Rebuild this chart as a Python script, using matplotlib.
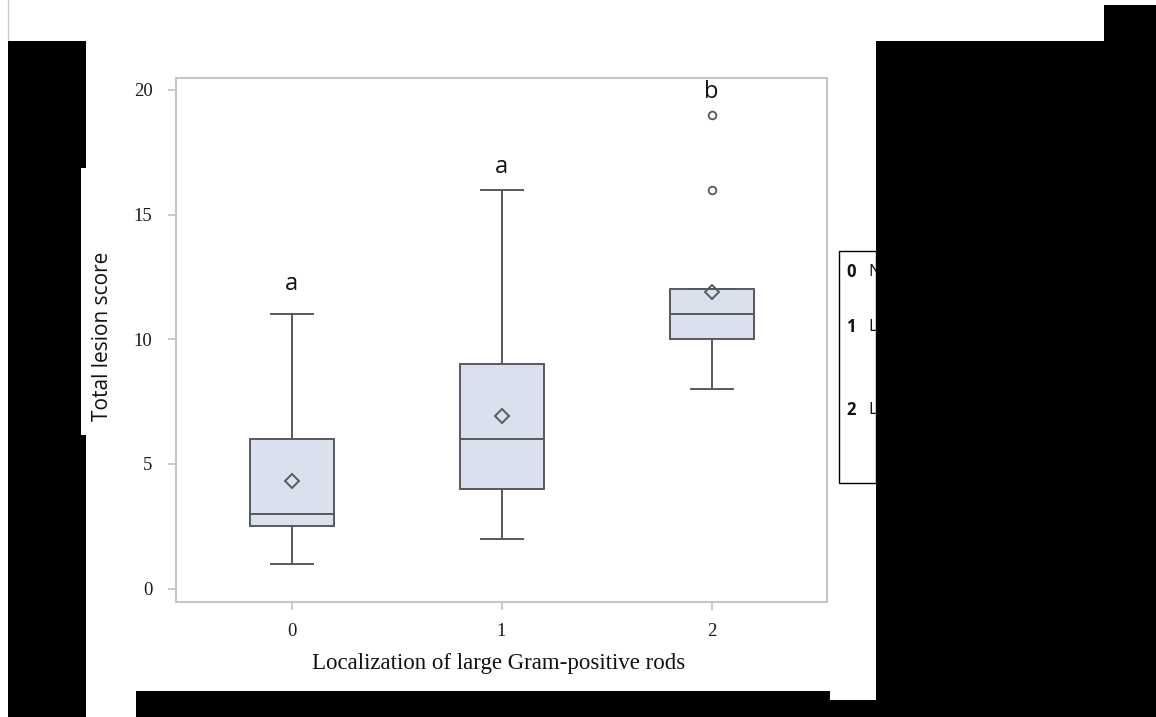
import matplotlib
matplotlib.use("Agg")
import matplotlib.pyplot as plt
from matplotlib.patches import Rectangle

# Box summary statistics per localization group
groups = ["0", "1", "2"]
whisker_low = [1, 2, 8]
q1 = [2.5, 4, 10]
median = [3, 6, 11]
q3 = [6, 9, 12]
whisker_high = [11, 16, 12]
means = [4.32, 6.93, 11.9]
outliers = [[], [], [19, 16]]
letter_groups = ["a", "a", "b"]
letter_y = [12.2, 16.9, 19.9]
y_ticks = [0, 5, 10, 15, 20]
legend_lines = [("0", "N"), ("1", "L"), ("2", "L")]

W, H = 1156, 717
fig = plt.figure(figsize=(W / 100, H / 100), dpi=100)


def fx(px):
    return px / W


def fy(py):
    return 1 - py / H


ax = fig.add_axes([fx(176), fy(602), fx(827) - fx(176), fy(78) - fy(602)])

stats = []
for i, g in enumerate(groups):
    stats.append(dict(label=g, whislo=whisker_low[i], q1=q1[i], med=median[i],
                      q3=q3[i], whishi=whisker_high[i], mean=means[i],
                      fliers=outliers[i]))

edge = "#58595d"
ax.bxp(stats, positions=range(len(groups)), widths=0.40, patch_artist=True,
       showmeans=True, showfliers=True,
       boxprops=dict(facecolor="#d9e1ee", edgecolor=edge, linewidth=1.4),
       medianprops=dict(color=edge, linewidth=1.4),
       whiskerprops=dict(color=edge, linewidth=1.4),
       capprops=dict(color=edge, linewidth=1.4),
       capwidths=0.2,
       meanprops=dict(marker="D", markersize=7.5, markerfacecolor="none",
                      markeredgecolor=edge, markeredgewidth=1.4),
       flierprops=dict(marker="o", markersize=5.5, markerfacecolor="none",
                       markeredgecolor=edge, markeredgewidth=1.3))

for i, lab in enumerate(letter_groups):
    ax.text(i, letter_y[i], lab, ha="center", va="center", fontsize=17,
            family="Open Sans", color="#111111")

ax.set_xlim(-0.55, 2.55)
ax.set_ylim(-0.54, 20.48)
ax.set_yticks(y_ticks)
ax.set_xticks(range(len(groups)))
ax.set_xticklabels(groups)

frame = "#c3c7cc"
for s in ax.spines.values():
    s.set_color(frame)
    s.set_linewidth(1.5)
ax.tick_params(axis="both", direction="out", color=frame, width=1.3,
               length=6, labelsize=13.5, labelcolor="#1a1a1a")
ax.tick_params(axis="y", pad=11)
ax.tick_params(axis="x", pad=9)
for t in ax.get_xticklabels() + ax.get_yticklabels():
    t.set_family("Liberation Serif")

fig.text(fx(499), fy(664), "Localization of large Gram-positive rods",
         ha="center", va="center", fontsize=16.5, family="Liberation Serif",
         color="#111111")
fig.text(fx(103), fy(336), "Total lesion score", rotation=90,
         ha="center", va="center", fontsize=15, family="Open Sans",
         color="#111111")

# Key box on the right
fig.add_artist(Rectangle((fx(839), fy(483)), fx(876) - fx(839),
                         fy(251) - fy(483), transform=fig.transFigure,
                         facecolor="white", edgecolor="black", linewidth=1))
for (num, word), py in zip(legend_lines, [272, 327, 410]):
    fig.text(fx(846), fy(py), num, ha="left", va="center", fontsize=12,
             family="Open Sans", weight="bold", color="#111111")
    fig.text(fx(868), fy(py), word, ha="left", va="center", fontsize=12,
             family="Open Sans", color="#111111")

# Opaque panels around the figure
black_rects = [
    (8, 41, 86, 168),
    (8, 168, 81, 435),
    (8, 435, 86, 717),
    (136, 691, 830, 717),
    (830, 700, 876, 717),
    (876, 41, 1156, 717),
    (1104, 5, 1156, 41),
]
for x0, y0, x1, y1 in black_rects:
    fig.add_artist(Rectangle((fx(x0), fy(y1)), fx(x1) - fx(x0),
                             fy(y0) - fy(y1), transform=fig.transFigure,
                             facecolor="black", edgecolor="none", zorder=10))
fig.add_artist(plt.Line2D([fx(8), fx(8)], [fy(0), fy(41)],
                          transform=fig.transFigure, color="#cccccc",
                          linewidth=1))

fig.savefig("out.png", dpi=100)
